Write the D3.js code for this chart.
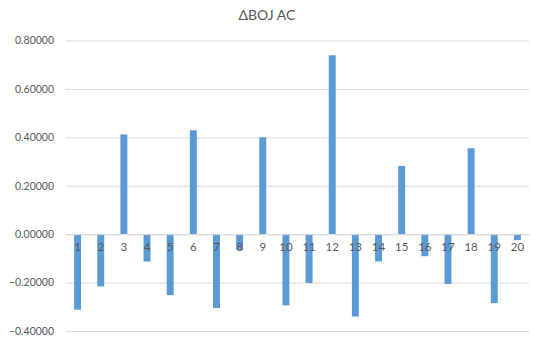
<!DOCTYPE html>
<html>
<head>
<meta charset="utf-8">
<script src="https://cdn.jsdelivr.net/npm/d3@7"></script>
<style>
  html, body { margin: 0; padding: 0; background: #fff; }
  svg text { font-family: Lato, "Open Sans", sans-serif; }
</style>
</head>
<body>
<svg id="chart" width="534" height="339"></svg>
<script>
// Category labels along the x axis
const categories = ["1","2","3","4","5","6","7","8","9","10","11","12","13","14","15","16","17","18","19","20"];
// ΔBOJ AC per category
const values = [-0.312, -0.216, 0.412, -0.113, -0.252, 0.429, -0.305, -0.065, 0.400, -0.294,
                -0.202, 0.739, -0.340, -0.113, 0.282, -0.091, -0.206, 0.355, -0.285, -0.025];
// Value axis ticks
const yTicks = [-0.4, -0.2, 0, 0.2, 0.4, 0.6, 0.8];
const title = "ΔBOJ AC";

const svg = d3.select("#chart");
const W = 534, H = 339;
const margin = { top: 40.5, right: 5, bottom: 8, left: 66 };
const plotBottom = 331;

const x = d3.scaleBand()
  .domain(categories)
  .range([margin.left, 529])
  .paddingInner(0.7)
  .paddingOuter(0.35);

const y = d3.scaleLinear()
  .domain([-0.4, 0.8])
  .range([plotBottom, margin.top]);

// Title
svg.append("text")
  .attr("x", 267)
  .attr("y", 20)
  .attr("text-anchor", "middle")
  .attr("font-size", 14)
  .attr("fill", "#595959")
  .text(title);

// Horizontal gridlines and value labels
const yAxis = d3.axisLeft(y)
  .tickValues(yTicks)
  .tickSize(-(529 - margin.left))
  .tickPadding(12)
  .tickFormat(d3.format(".5f"));

const gy = svg.append("g")
  .attr("transform", `translate(${margin.left},0)`)
  .call(yAxis);
gy.select(".domain").remove();
gy.selectAll(".tick line").attr("stroke", "#d9d9d9").attr("stroke-width", 1);
gy.selectAll(".tick text")
  .attr("fill", "#595959")
  .attr("font-size", 10.5);

// Bars
svg.append("g")
  .selectAll("rect")
  .data(values)
  .join("rect")
  .attr("x", (d, i) => x(categories[i]))
  .attr("width", x.bandwidth())
  .attr("y", d => y(Math.max(0, d)))
  .attr("height", d => Math.abs(y(d) - y(0)))
  .attr("fill", "#5b9bd5");

// Category labels sit just under the zero line
const xAxis = d3.axisBottom(x).tickSize(0).tickPadding(9);
const gx = svg.append("g")
  .attr("transform", `translate(0,${y(0)})`)
  .call(xAxis);
gx.select(".domain").attr("stroke", "#d9d9d9");
gx.selectAll(".tick text")
  .attr("fill", "#595959")
  .attr("font-size", 11.5);
</script>
</body>
</html>
